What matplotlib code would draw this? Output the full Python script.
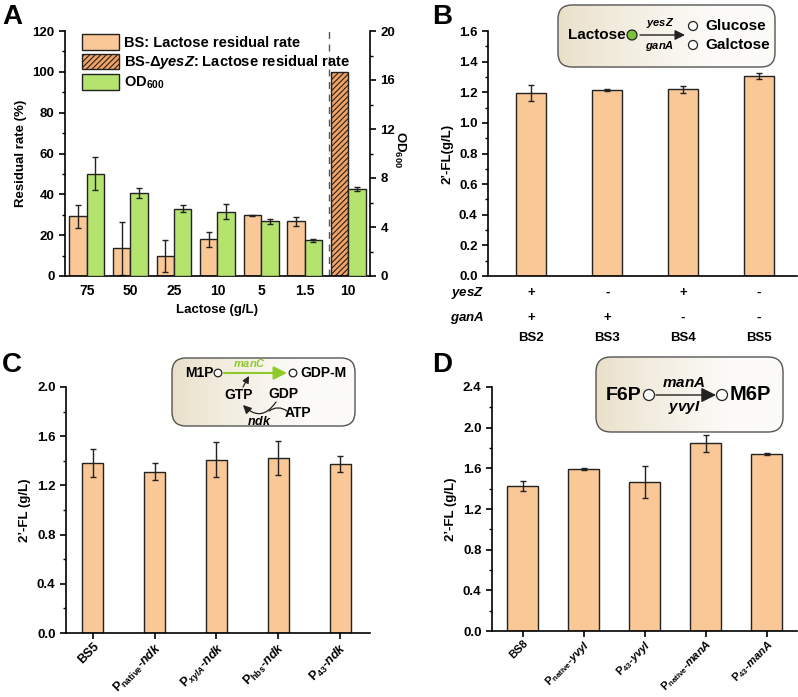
import numpy as np
import matplotlib
matplotlib.use("Agg")
import matplotlib.pyplot as plt
from matplotlib.patches import FancyBboxPatch, Patch, FancyArrowPatch, Circle
from matplotlib.ticker import MultipleLocator
import matplotlib.transforms as mtransforms

plt.rcParams['font.family'] = ['Liberation Sans', 'DejaVu Sans']
plt.rcParams['font.weight'] = 'bold'
plt.rcParams['axes.labelweight'] = 'bold'
plt.rcParams['mathtext.fontset'] = 'custom'
plt.rcParams['mathtext.rm'] = 'Liberation Sans:bold'
plt.rcParams['mathtext.it'] = 'Liberation Sans:bold:italic'
plt.rcParams['mathtext.bf'] = 'Liberation Sans:bold'
plt.rcParams['hatch.linewidth'] = 0.8
plt.rcParams['hatch.color'] = '#b55a22'

# ---------------- data ----------------
lactose_labels = ['75', '50', '25', '10', '5', '1.5', '10']
bs_residual = [29.2, 13.5, 9.8, 18.0, 29.7, 26.8]
bs_residual_err = [5.8, 13.0, 7.9, 3.6, 0.4, 2.1]
yesz_residual = [100.0]
od600 = [8.33, 6.78, 5.50, 5.25, 4.47, 2.90, 7.10]
od600_err = [1.35, 0.40, 0.30, 0.60, 0.20, 0.13, 0.15]

b_strains = ['BS2', 'BS3', 'BS4', 'BS5']
b_yesz = ['+', '-', '+', '-']
b_gana = ['+', '+', '-', '-']
b_fl = [1.197, 1.215, 1.218, 1.307]
b_err = [0.052, 0.004, 0.020, 0.020]

c_labels = ['BS5', r'P$_{\mathrm{native}}$-$ndk$', r'P$_{xylA}$-$ndk$',
            r'P$_{\mathrm{hbs}}$-$ndk$', r'P$_{\mathrm{43}}$-$ndk$']
c_fl = [1.385, 1.310, 1.410, 1.425, 1.378]
c_err = [0.115, 0.070, 0.140, 0.140, 0.065]

d_labels = ['BS8', r'P$_{\mathrm{native}}$-$yvyI$', r'P$_{\mathrm{43}}$-$yvyI$',
            r'P$_{\mathrm{native}}$-$manA$', r'P$_{\mathrm{43}}$-$manA$']
d_fl = [1.425, 1.590, 1.465, 1.845, 1.745]
d_err = [0.050, 0.010, 0.160, 0.080, 0.010]

PEACH = '#FAC896'
GREEN = '#B4E46E'
HATCHF = '#F2A263'
EDGE = '#222222'
FS = 9.5

W, H = 798, 697
fig = plt.figure(figsize=(W / 100, H / 100), dpi=100)


def add_ax(l, t, r, b):
    return fig.add_axes([l / W, 1 - b / H, (r - l) / W, (b - t) / H])


def style(ax):
    for s in ['top', 'right']:
        ax.spines[s].set_visible(False)
    for s in ['left', 'bottom']:
        ax.spines[s].set_linewidth(1.2)
    ax.tick_params(axis='both', labelsize=FS, width=1.2, length=4)
    ax.tick_params(axis='y', which='minor', width=1.0, length=2.5)


ekw = dict(ecolor='#222222', elinewidth=1.0, capsize=2.5, capthick=1.0)

# ---------------- Panel A ----------------
axA = add_ax(65, 31, 370, 276)
style(axA)
xa = np.arange(len(lactose_labels))
w = 0.4
axA.bar(xa[:6] - w / 2, bs_residual, w, color=PEACH, edgecolor=EDGE, lw=1.0,
        yerr=bs_residual_err, error_kw=ekw, zorder=2)
axA.bar(xa[6:] - w / 2, yesz_residual, w, color=HATCHF, edgecolor=EDGE, lw=1.0,
        hatch='//////', zorder=2)
axA.set_xlim(-0.5, 6.5)
axA.set_ylim(0, 120)
axA.yaxis.set_major_locator(MultipleLocator(20))
axA.yaxis.set_minor_locator(MultipleLocator(10))
axA.set_xticks(xa)
axA.set_xticklabels(lactose_labels, fontsize=10)
axA.tick_params(axis='x', length=0, pad=6)
axA.set_ylabel('Residual rate (%)', fontsize=FS, labelpad=4)
axA.set_xlabel('Lactose (g/L)', fontsize=FS, labelpad=4)
axA.axvline(5.55, color='#555555', lw=1.0, ls=(0, (5, 4)), zorder=1)

axA2 = axA.twinx()
axA2.bar(xa + w / 2, od600, w, color=GREEN, edgecolor=EDGE, lw=1.0,
         yerr=od600_err, error_kw=ekw, zorder=2)
axA2.set_ylim(0, 20)
axA2.yaxis.set_major_locator(MultipleLocator(4))
axA2.yaxis.set_minor_locator(MultipleLocator(2))
for s in ['top', 'left', 'bottom']:
    axA2.spines[s].set_visible(False)
axA2.spines['right'].set_linewidth(1.2)
axA2.tick_params(axis='y', labelsize=FS, width=1.2, length=4)
axA2.tick_params(axis='y', which='minor', width=1.0, length=2.5)
fig.text(400 / W, 1 - 150 / H, r'OD$_{600}$', rotation=270, fontsize=FS,
         ha='center', va='center', fontweight='bold')

handles = [Patch(facecolor=PEACH, edgecolor=EDGE, lw=1.0),
           Patch(facecolor=HATCHF, edgecolor=EDGE, lw=1.0, hatch='//////'),
           Patch(facecolor=GREEN, edgecolor=EDGE, lw=1.0)]
labels = ['BS: Lactose residual rate', r'BS-$\Delta$$yesZ$: Lactose residual rate',
          r'OD$_{600}$']
axA2.legend(handles, labels, loc='upper left', bbox_to_anchor=(0.035, 1.01),
            frameon=False, fontsize=10.5, handlelength=2.6, handleheight=1.25,
            handletextpad=0.3, labelspacing=0.22, borderaxespad=0)

fig.text(2 / W, 1 - 4 / H, 'A', fontsize=20, fontweight='bold', va='top', ha='left')

# ---------------- Panel B ----------------
axB = add_ax(488, 31, 797, 276)
style(axB)
xb = np.arange(len(b_strains))
axB.bar(xb, b_fl, 0.4, color=PEACH, edgecolor=EDGE, lw=1.0, yerr=b_err,
        error_kw=ekw, zorder=2)
axB.set_xlim(-0.57, 3.5)
axB.set_ylim(0, 1.6)
axB.yaxis.set_major_locator(MultipleLocator(0.2))
axB.yaxis.set_minor_locator(MultipleLocator(0.1))
axB.yaxis.set_major_formatter(matplotlib.ticker.FormatStrFormatter('%.1f'))
axB.set_xticks(xb)
axB.set_xticklabels([])
axB.tick_params(axis='x', length=0)
axB.set_ylabel("2’-FL(g/L)", fontsize=FS, labelpad=4)
trB = mtransforms.blended_transform_factory(axB.transData, axB.transAxes)
for i in range(len(b_strains)):
    axB.text(xb[i], -0.069, b_yesz[i], transform=trB, ha='center', va='center', fontsize=FS)
    axB.text(xb[i], -0.171, b_gana[i], transform=trB, ha='center', va='center', fontsize=FS)
    axB.text(xb[i], -0.253, b_strains[i], transform=trB, ha='center', va='center', fontsize=FS)
fig.text(484 / W, 1 - 293 / H, r'$yesZ$', ha='right', va='center', fontsize=FS)
fig.text(484 / W, 1 - 318 / H, r'$ganA$', ha='right', va='center', fontsize=FS)
fig.text(432 / W, 1 - 4 / H, 'B', fontsize=20, fontweight='bold', va='top', ha='left')

# ---------------- Panel C ----------------
axC = add_ax(66, 387, 370, 633)
style(axC)
xc = np.arange(len(c_labels))
axC.bar(xc, c_fl, 0.34, color=PEACH, edgecolor=EDGE, lw=1.0, yerr=c_err,
        error_kw=ekw, zorder=2)
axC.set_xlim(-0.43, 4.48)
axC.set_ylim(0, 2.0)
axC.yaxis.set_major_locator(MultipleLocator(0.4))
axC.yaxis.set_minor_locator(MultipleLocator(0.2))
axC.yaxis.set_major_formatter(matplotlib.ticker.FormatStrFormatter('%.1f'))
axC.set_xticks(xc)
axC.set_xticklabels(c_labels, rotation=45, ha='right', rotation_mode='anchor', fontsize=9)
axC.tick_params(axis='x', length=4, width=1.2, pad=1.5)
axC.set_ylabel("2’-FL (g/L)", fontsize=FS, labelpad=4)
fig.text(2 / W, 1 - 352 / H, 'C', fontsize=20, fontweight='bold', va='top', ha='left')

# ---------------- Panel D ----------------
axD = add_ax(492, 387, 797, 631)
style(axD)
xd = np.arange(len(d_labels))
axD.bar(xd, d_fl, 0.5, color=PEACH, edgecolor=EDGE, lw=1.0, yerr=d_err,
        error_kw=ekw, zorder=2)
axD.set_xlim(-0.5, 4.5)
axD.set_ylim(0, 2.4)
axD.yaxis.set_major_locator(MultipleLocator(0.4))
axD.yaxis.set_minor_locator(MultipleLocator(0.2))
axD.yaxis.set_major_formatter(matplotlib.ticker.FormatStrFormatter('%.1f'))
axD.set_xticks(xd)
axD.set_xticklabels(d_labels, rotation=45, ha='right', rotation_mode='anchor', fontsize=8)
axD.tick_params(axis='x', length=4, width=1.2, pad=1.0)
axD.set_ylabel("2’-FL (g/L)", fontsize=FS, labelpad=4)
fig.text(432 / W, 1 - 352 / H, 'D', fontsize=20, fontweight='bold', va='top', ha='left')


# ---------------- inset boxes ----------------
def inset_box(x0, y0, x1, y1, rs=14):
    m = 3
    ax = add_ax(x0 - m, y0 - m, x1 + m, y1 + m)
    ax.set_xlim(x0 - m, x1 + m)
    ax.set_ylim(y1 + m, y0 - m)
    ax.axis('off')
    box = FancyBboxPatch((x0, y0), x1 - x0, y1 - y0,
                         boxstyle=f'round,pad=0,rounding_size={rs}',
                         fc='none', ec='#555555', lw=1.0, zorder=3)
    ax.add_patch(box)
    n = 256
    t = np.linspace(0, 1, n)
    c0 = np.array([233, 223, 200]) / 255
    c1 = np.array([252, 251, 248]) / 255
    tt = np.clip(t * 1.4, 0, 1) ** 0.8
    grad = (c0[None, :] * (1 - tt[:, None]) + c1[None, :] * tt[:, None])[None, :, :]
    im = ax.imshow(grad, extent=(x0, x1, y1, y0), aspect='auto', zorder=1)
    clip = FancyBboxPatch((x0, y0), x1 - x0, y1 - y0,
                          boxstyle=f'round,pad=0,rounding_size={rs}',
                          fc='none', ec='none', transform=ax.transData)
    im.set_clip_path(clip)
    return ax


def circ(ax, x, y, r=4.5, fc='white'):
    ax.add_patch(Circle((x, y), r, fc=fc, ec='#222222', lw=0.9, zorder=5))


# B inset
ib = inset_box(558, 5, 775, 67)
ib.text(568, 35, 'Lactose', fontsize=11, ha='left', va='center', zorder=6)
circ(ib, 632, 35, r=5, fc='#7CC23A')
ib.add_patch(FancyArrowPatch((640, 35), (685, 35), arrowstyle='-|>,head_length=6,head_width=3',
                             color='#222222', lw=1.0, zorder=5, shrinkA=0, shrinkB=0))
ib.text(660, 30, r'$yesZ$', fontsize=8, ha='center', va='bottom', zorder=6)
ib.text(660, 39, r'$ganA$', fontsize=8, ha='center', va='top', zorder=6)
circ(ib, 693, 26)
circ(ib, 693, 45)
ib.text(705, 26, 'Glucose', fontsize=11, ha='left', va='center', zorder=6)
ib.text(705, 45, 'Galctose', fontsize=11, ha='left', va='center', zorder=6)

# C inset
ic = inset_box(172, 358, 355, 426)
ic.text(185, 373, 'M1P', fontsize=10, ha='left', va='center', zorder=6)
circ(ic, 218, 373, r=3.8)
ic.add_patch(FancyArrowPatch((224, 373), (287, 373), arrowstyle='-|>,head_length=8,head_width=4',
                             color='#8CCB2A', lw=1.5, zorder=5, shrinkA=0, shrinkB=0))
ic.text(250, 369, r'$manC$', fontsize=8, color='#8CCB2A', ha='center', va='bottom', zorder=6)
circ(ic, 293, 373, r=3.8)
ic.text(300, 373, 'GDP-M', fontsize=10, ha='left', va='center', zorder=6)
ic.text(239, 395, 'GTP', fontsize=10, ha='center', va='center', zorder=6)
ic.text(283, 394, 'GDP', fontsize=10, ha='center', va='center', zorder=6)
ic.text(298, 413, 'ATP', fontsize=10, ha='center', va='center', zorder=6)
ic.text(259, 421, r'$ndk$', fontsize=9, ha='center', va='center', zorder=6)
ic.add_patch(FancyArrowPatch((243, 387), (249, 376), arrowstyle='-|>,head_length=4,head_width=2',
                             color='#222222', lw=0.9, zorder=5, shrinkA=0, shrinkB=0))
ic.add_patch(FancyArrowPatch((276, 402), (243, 405), connectionstyle='arc3,rad=-0.6',
                             arrowstyle='-|>,head_length=5,head_width=2.5',
                             color='#222222', lw=0.9, zorder=5, shrinkA=0, shrinkB=0))
ic.add_patch(FancyArrowPatch((287, 411), (269, 411), connectionstyle='arc3,rad=0.35',
                             arrowstyle='-', color='#222222', lw=0.9, zorder=5,
                             shrinkA=0, shrinkB=0))

# D inset
idn = inset_box(596, 357, 783, 432, rs=15)
idn.text(606, 395, 'F6P', fontsize=14, ha='left', va='center', zorder=6)
circ(idn, 649, 395, r=5.5)
idn.add_patch(FancyArrowPatch((656, 395), (716, 395), arrowstyle='-|>,head_length=9,head_width=4.5',
                              color='#222222', lw=1.0, zorder=5, shrinkA=0, shrinkB=0))
idn.text(684, 390, r'$manA$', fontsize=11, ha='center', va='bottom', zorder=6)
idn.text(684, 399, r'$yvyI$', fontsize=11, ha='center', va='top', zorder=6)
circ(idn, 722, 395, r=5.5)
idn.text(730, 395, 'M6P', fontsize=14.5, ha='left', va='center', zorder=6)

fig.savefig('out.png', dpi=100)
